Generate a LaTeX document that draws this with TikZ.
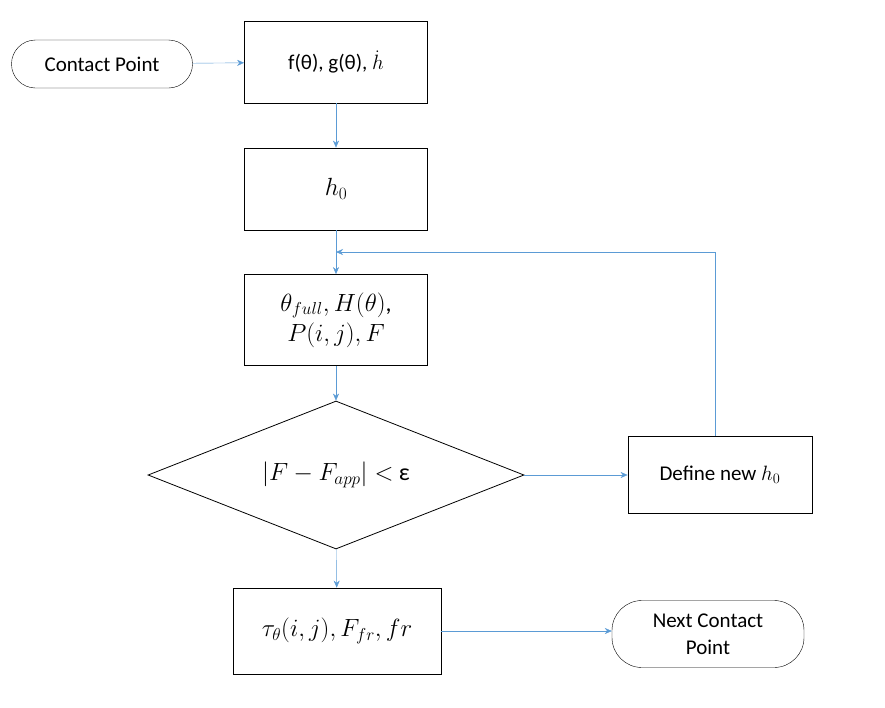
\documentclass[tikz,border=0pt]{standalone}
\usepackage{fontspec}
\setmainfont{Carlito}
\usetikzlibrary{shapes.geometric,arrows.meta}
\definecolor{ab}{RGB}{91,155,213}
\begin{document}
\begin{tikzpicture}[x=1pt,y=-1pt,
 every node/.style={font=\fontsize{21}{27}\selectfont},
 mth/.style={font=\fontsize{24}{30}\selectfont},
 box/.style={draw,thick,minimum width=183pt,minimum height=82pt,align=center},
 term/.style={draw,rounded corners=24pt,minimum width=181pt,minimum height=48pt,align=center},
 arr/.style={draw=ab,-{Stealth[length=7pt,width=6pt]}}]
\useasboundingbox (0,0) rectangle (885,707);
\node[term] (cp) at (102,64) {Contact Point};
\node[box] (b1) at (336,62) {f(θ), g(θ), $\dot{h}$\vphantom{$\dot{h}_0$}};
\node[box,mth] (b2) at (336,189) {$h_0$};
\node[box,mth,minimum height=91pt,inner sep=2pt] (b3) at (336,320) {$\theta_{full}, H(\theta)$,\\ $P(i,j), F$};
\node[draw,thick,diamond,mth,aspect=2.54,minimum width=376pt,minimum height=148pt,inner sep=0pt] (d) at (336,475) {$\bigl|F-F_{app}\bigr| < $ ε};
\node[box,minimum width=184pt,minimum height=77pt] (dn) at (720,475) {Define new $h_0$};
\node[box,mth,minimum width=208pt,minimum height=86pt] (b4) at (337,631) {$\tau_\theta(i,j), F_{fr}, fr$};
\node[term,minimum width=192pt,minimum height=67pt,rounded corners=30pt,inner sep=1pt] (nc) at (708,634) {Next Contact\\ Point};
\coordinate (c1) at (715,252);
\coordinate (c2) at (336,252);
\draw[arr] (cp) -- (b1);
\draw[arr] (b1) -- (b2);
\draw[arr] (b2) -- (b3);
\draw[arr] (b3) -- (d);
\draw[arr] (d) -- (dn);
\draw[arr] (d) -- (b4);
\draw[arr] (b4) -- (b4 -| nc.west);
\draw[arr] (dn.north -| c1) -- (c1) -- (c2);
\end{tikzpicture}
\end{document}
